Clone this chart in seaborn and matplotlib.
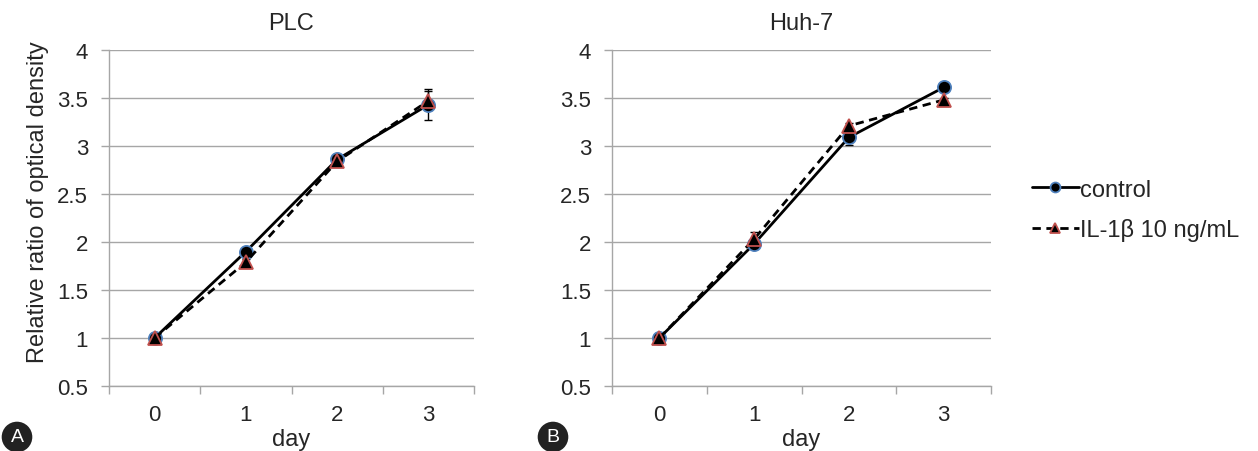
import matplotlib
matplotlib.use("Agg")
import matplotlib.pyplot as plt
import seaborn as sns
import pandas as pd
import numpy as np

days = [0, 1, 2, 3]
day_labels = ["0", "1", "2", "3"]
yticks = [0.5, 1, 1.5, 2, 2.5, 3, 3.5, 4]

plc_control = [1.0, 1.90, 2.86, 3.43]
plc_control_err = [0.02, 0.03, 0.05, 0.16]
plc_il = [1.0, 1.79, 2.84, 3.47]
plc_il_err = [0.02, 0.03, 0.04, 0.10]

huh_control = [1.0, 1.98, 3.09, 3.61]
huh_control_err = [0.02, 0.03, 0.08, 0.02]
huh_il = [1.0, 2.03, 3.21, 3.48]
huh_il_err = [0.02, 0.07, 0.03, 0.02]

titles = ["PLC", "Huh-7"]
series_names = ["control", "IL-1\u03b2 10 ng/mL"]

sns.set_theme(style="white")
plt.rcParams['font.family'] = ['Liberation Sans', 'DejaVu Sans']

fig = plt.figure(figsize=(12.58, 4.52), dpi=100)
axA = fig.add_axes([109/1258, 1-387/452, 365/1258, 336/452])
axB = fig.add_axes([612/1258, 1-387/452, 379/1258, 336/452])

panels = [
    (axA, plc_control, plc_control_err, plc_il, plc_il_err),
    (axB, huh_control, huh_control_err, huh_il, huh_il_err),
]

grid_col = "#a6a6a6"
handles = None
for i, (ax, c, ce, il, ile) in enumerate(panels):
    for y in yticks:
        ax.axhline(y, color=grid_col, lw=1.0, zorder=0)
    ax.errorbar(days, c, yerr=ce, fmt="none", ecolor="black", elinewidth=1, capsize=3, zorder=2)
    ax.errorbar(days, il, yerr=ile, fmt="none", ecolor="black", elinewidth=1, capsize=3, zorder=2)
    sns.lineplot(x=days, y=c, ax=ax, color="black", lw=2.0, marker="o", markersize=9.5,
                 markerfacecolor="black", markeredgecolor="#4f81bd", markeredgewidth=1.3,
                 label=series_names[0], zorder=3, legend=False)
    sns.lineplot(x=days, y=il, ax=ax, color="black", lw=2.0, linestyle=(0, (3, 2)), marker="^",
                 markersize=10.5, markerfacecolor="black", markeredgecolor="#c0504d",
                 markeredgewidth=1.3, label=series_names[1], zorder=4, legend=False)
    ax.set_xlim(-0.5, 3.5)
    ax.set_ylim(0.5, 4)
    ax.set_yticks(yticks)
    ax.set_yticklabels([("%g" % y) for y in yticks], fontsize=16)
    ax.set_xticks(days)
    ax.set_xticklabels(day_labels, fontsize=16)
    ax.set_xticks([-0.5, 0.5, 1.5, 2.5, 3.5], minor=True)
    ax.tick_params(axis="x", which="major", length=0, pad=13)
    ax.tick_params(axis="x", which="minor", length=6, color=grid_col, width=1, direction="out", bottom=True)
    ax.tick_params(axis="y", which="major", length=6, color=grid_col, width=1, direction="out", left=True, pad=9)
    for s in ["top", "right"]:
        ax.spines[s].set_visible(False)
    for s in ["left", "bottom"]:
        ax.spines[s].set_color(grid_col)
        ax.spines[s].set_linewidth(1.0)
    ax.set_title(titles[i], fontsize=17, pad=15)
    ax.set_xlabel("day", fontsize=17, labelpad=2)
    ax.set_ylabel("")
    if i == 0:
        handles, labels = ax.get_legend_handles_labels()

axA.set_ylabel("Relative ratio of optical density", fontsize=17, labelpad=6)
axA.yaxis.label.set_y(0.55)

fig.legend(handles, series_names, loc="center left", bbox_to_anchor=(1020/1258, 1-211/452),
           frameon=False, fontsize=17, handlelength=2.0, handletextpad=0.05, labelspacing=0.75,
           borderpad=0, markerscale=0.75)

for lbl, x in [("A", 17), ("B", 553)]:
    fig.text(x/1258, 1-438/452, lbl, ha="center", va="center", color="white", fontsize=14,
             bbox=dict(boxstyle="circle,pad=0.35", fc="#222222", ec="none"))

fig.savefig("out.png", dpi=100)
